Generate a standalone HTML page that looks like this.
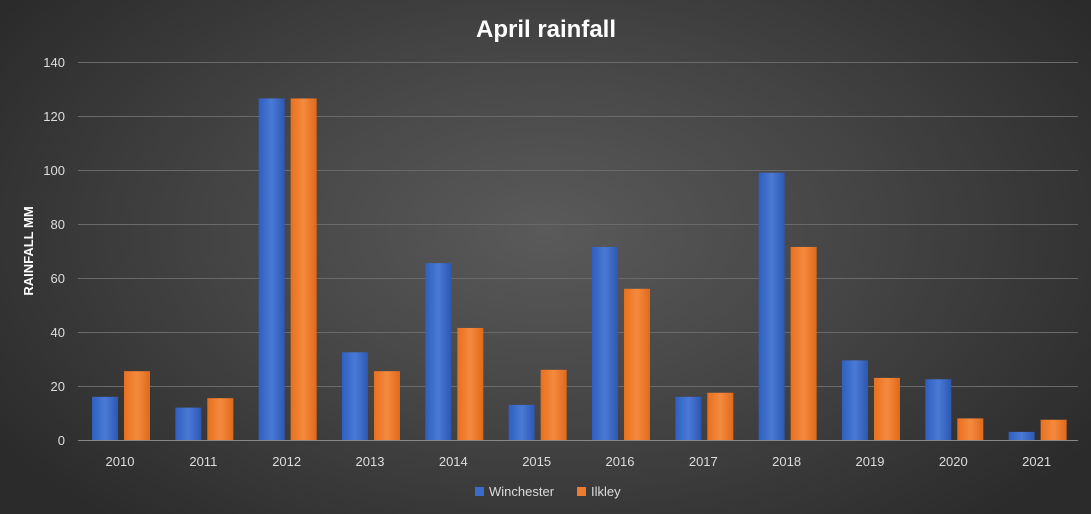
<!DOCTYPE html>
<html><head><meta charset="utf-8"><style>
html,body{margin:0;padding:0;}
body{width:1091px;height:514px;overflow:hidden;background:radial-gradient(ellipse 60% 75% at 50% 45%,#5a5a5a 0%,#444 50%,#2b2b2b 100%);font-family:"Liberation Sans",sans-serif;}
</style></head><body>
<svg width="1091" height="514" xmlns="http://www.w3.org/2000/svg" style="position:absolute;left:0;top:0">
<defs>
<linearGradient id="b" x1="0" x2="1" y1="0" y2="0"><stop offset="0" stop-color="#2f5fbf"/><stop offset="0.5" stop-color="#4a7ad6"/><stop offset="1" stop-color="#2c58b3"/></linearGradient>
<linearGradient id="o" x1="0" x2="1" y1="0" y2="0"><stop offset="0" stop-color="#e8701f"/><stop offset="0.5" stop-color="#f48a3e"/><stop offset="1" stop-color="#e0691b"/></linearGradient>
</defs>
<text x="546" y="37" text-anchor="middle" fill="#fff" font-size="24" font-weight="bold">April rainfall</text>
<g stroke="#6a6a6a" stroke-width="1">
<line x1="78" x2="1078" y1="62.5" y2="62.5"/><line x1="78" x2="1078" y1="116.5" y2="116.5"/>
<line x1="78" x2="1078" y1="170.5" y2="170.5"/><line x1="78" x2="1078" y1="224.5" y2="224.5"/>
<line x1="78" x2="1078" y1="278.5" y2="278.5"/><line x1="78" x2="1078" y1="332.5" y2="332.5"/>
<line x1="78" x2="1078" y1="386.5" y2="386.5"/>
</g>
<line x1="78" x2="1078" y1="440.5" y2="440.5" stroke="#888"/>
<g fill="#ddd" font-size="13" text-anchor="end">
<text x="65" y="67">140</text><text x="65" y="121">120</text><text x="65" y="175">100</text>
<text x="65" y="229">80</text><text x="65" y="283">60</text><text x="65" y="337">40</text>
<text x="65" y="391">20</text><text x="65" y="445">0</text>
</g>
<text transform="translate(33,251) rotate(-90)" text-anchor="middle" fill="#fff" font-size="13" font-weight="bold">RAINFALL MM</text>
<g id="bars"></g>
<g fill="#ddd" font-size="13" text-anchor="middle" id="labs"></g>
<rect x="475" y="487" width="9" height="9" fill="#3b6bcb"/>
<text x="489" y="496" fill="#ddd" font-size="13">Winchester</text>
<rect x="577" y="487" width="9" height="9" fill="#ef7b2e"/>
<text x="591" y="496" fill="#ddd" font-size="13">Ilkley</text>
</svg>
<script>
var W=[16,12,126.5,32.5,65.5,13,71.5,16,99,29.5,22.5,3],I=[25.5,15.5,126.5,25.5,41.5,26,56,17.5,71.5,23,8,7.5];
var ns="http://www.w3.org/2000/svg",bars=document.getElementById("bars"),labs=document.getElementById("labs");
function r(x,v,f){var e=document.createElementNS(ns,"rect");var h=v*2.7;e.setAttribute("x",x);e.setAttribute("y",440-h);e.setAttribute("width",26);e.setAttribute("height",h);e.setAttribute("fill",f);bars.appendChild(e);}
for(var i=0;i<12;i++){var s=78+i*83.33;r(s+14,W[i],"url(#b)");r(s+46,I[i],"url(#o)");
var t=document.createElementNS(ns,"text");t.setAttribute("x",s+42);t.setAttribute("y",466);t.textContent=2010+i;labs.appendChild(t);}
</script>
</body></html>
